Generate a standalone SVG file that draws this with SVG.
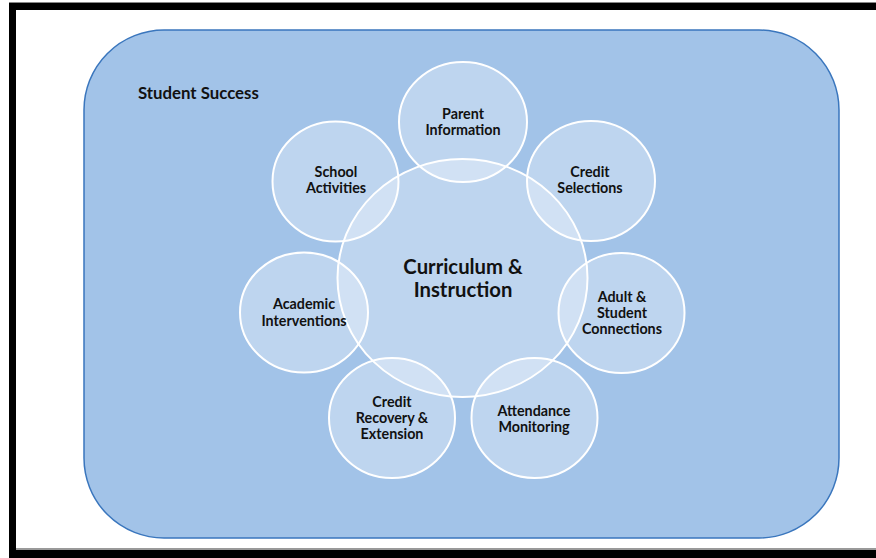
<svg xmlns="http://www.w3.org/2000/svg" width="876" height="558" viewBox="0 0 876 558">
<style>
.frame{fill:#000}
.c{fill:#ffffff;fill-opacity:0.3;stroke:#ffffff;stroke-width:2}
.t{font-family:Lato,"Liberation Sans",sans-serif;font-weight:bold;font-size:14.3px;fill:#111;text-anchor:middle}
.big{font-size:20.3px}
</style>
<rect width="876" height="558" fill="#ffffff"/>
<g id="frame">
<rect x="9" y="2" width="867" height="1.5" fill="#888"/>
<rect class="frame" x="9" y="3" width="867" height="7"/>
<rect class="frame" x="9" y="3" width="7" height="555"/>
<rect x="16" y="548" width="860" height="2" fill="#999"/>
<rect class="frame" x="9" y="550" width="867" height="8"/>
</g>
<g id="student-success">
<rect x="84" y="30" width="755" height="508" rx="80" ry="80" fill="#a2c3e8" stroke="#3a76bd" stroke-width="1.5"/>
<text x="138" y="98.5" style="font-family:Lato,'Liberation Sans',sans-serif;font-weight:bold;font-size:16.8px;fill:#111">Student Success</text>
</g>
<g id="curriculum">
<ellipse class="c" cx="462.5" cy="278" rx="125" ry="119"/>
<text class="t big" x="463" y="274">Curriculum &amp;</text>
<text class="t big" x="463" y="296.5">Instruction</text>
</g>
<g id="parent-information">
<ellipse class="c" cx="463" cy="122" rx="64" ry="60"/>
<text class="t" x="463" y="119">Parent</text>
<text class="t" x="463" y="135">Information</text>
</g>
<g id="credit-selections">
<ellipse class="c" cx="591" cy="181" rx="64" ry="60"/>
<text class="t" x="590" y="177">Credit</text>
<text class="t" x="590" y="193">Selections</text>
</g>
<g id="adult-student-connections">
<ellipse class="c" cx="621.5" cy="313" rx="63" ry="60"/>
<text class="t" x="622" y="302">Adult &amp;</text>
<text class="t" x="622" y="318">Student</text>
<text class="t" x="622" y="334">Connections</text>
</g>
<g id="attendance-monitoring">
<ellipse class="c" cx="534.5" cy="418" rx="63" ry="60"/>
<text class="t" x="534" y="416">Attendance</text>
<text class="t" x="534" y="432">Monitoring</text>
</g>
<g id="credit-recovery">
<ellipse class="c" cx="392" cy="418" rx="63" ry="60"/>
<text class="t" x="392" y="407">Credit</text>
<text class="t" x="392" y="423">Recovery &amp;</text>
<text class="t" x="392" y="439">Extension</text>
</g>
<g id="academic-interventions">
<ellipse class="c" cx="304" cy="312.5" rx="64" ry="60"/>
<text class="t" x="304" y="309">Academic</text>
<text class="t" x="304" y="326">Interventions</text>
</g>
<g id="school-activities">
<ellipse class="c" cx="335.5" cy="181.5" rx="63" ry="60"/>
<text class="t" x="336" y="177">School</text>
<text class="t" x="336" y="193">Activities</text>
</g>
<g id="connectors"></g>
</svg>
